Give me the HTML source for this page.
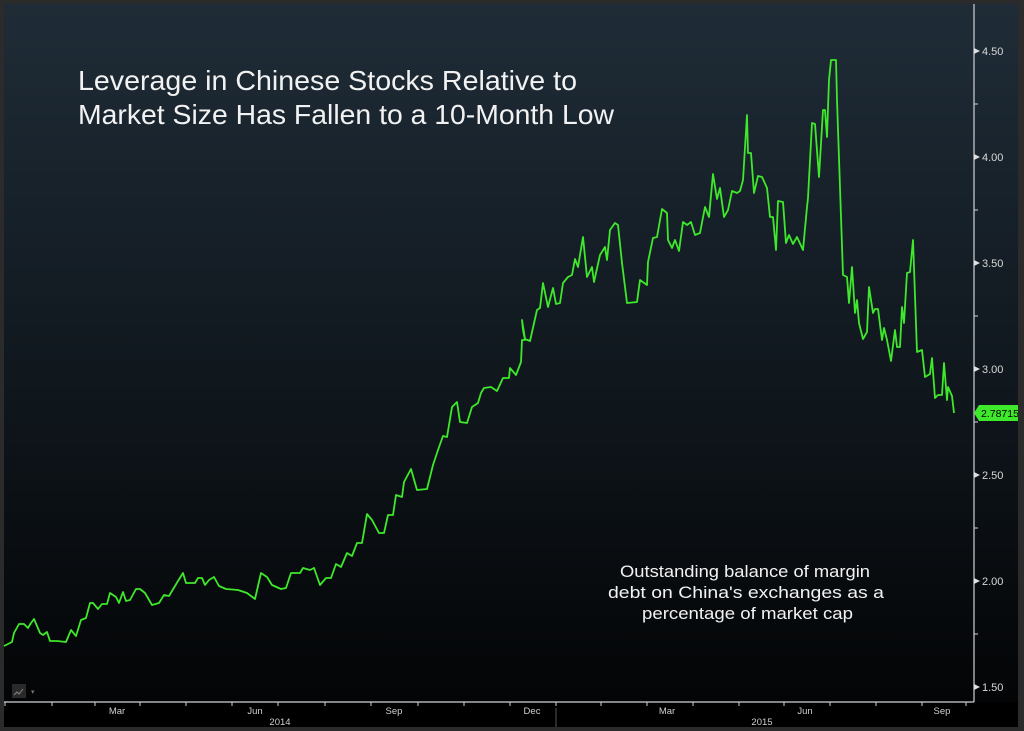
<!DOCTYPE html>
<html><head><meta charset="utf-8"><style>
html,body{margin:0;padding:0;background:#2b2b2b;}
svg{display:block;}
text{font-family:"Liberation Sans","DejaVu Sans",sans-serif;}
</style></head><body>
<svg width="1024" height="731" viewBox="0 0 1024 731" xmlns="http://www.w3.org/2000/svg">
<defs>
<linearGradient id="bg" x1="0" y1="0" x2="0" y2="1">
<stop offset="0" stop-color="#1f2c37"/>
<stop offset="0.45" stop-color="#121a21"/>
<stop offset="1" stop-color="#020304"/>
</linearGradient>
</defs>
<rect x="0" y="0" width="1024" height="731" fill="#2b2b2b"/>
<rect x="4" y="4" width="1014" height="723" fill="url(#bg)"/>
<rect x="4" y="702" width="1014" height="25" fill="#000"/>
<line x1="974" y1="4" x2="974" y2="702" stroke="#cfd3d6" stroke-width="1.2"/>
<line x1="4" y1="702" x2="974" y2="702" stroke="#cfd3d6" stroke-width="1.2"/>
<g fill="#d8d8d8" font-size="11">
<text x="982" y="55">4.50</text><text x="982" y="161">4.00</text><text x="982" y="267">3.50</text>
<text x="982" y="373">3.00</text><text x="982" y="479">2.50</text><text x="982" y="585">2.00</text><text x="982" y="691">1.50</text>
</g>
<g fill="#e0e0e0">
<path d="M974 48l6 3-6 3z"/><path d="M974 154l6 3-6 3z"/><path d="M974 260l6 3-6 3z"/><path d="M974 366l6 3-6 3z"/><path d="M974 472l6 3-6 3z"/><path d="M974 578l6 3-6 3z"/><path d="M974 684l6 3-6 3z"/>
</g>
<g stroke="#cfd3d6" stroke-width="1">
<line x1="974" y1="104" x2="978" y2="104"/><line x1="974" y1="210" x2="978" y2="210"/><line x1="974" y1="316" x2="978" y2="316"/><line x1="974" y1="422" x2="978" y2="422"/><line x1="974" y1="528" x2="978" y2="528"/><line x1="974" y1="634" x2="978" y2="634"/>
<line x1="5" y1="702" x2="5" y2="706"/><line x1="52" y1="702" x2="52" y2="706"/><line x1="95" y1="702" x2="95" y2="706"/><line x1="140" y1="702" x2="140" y2="706"/><line x1="186" y1="702" x2="186" y2="706"/><line x1="232" y1="702" x2="232" y2="706"/><line x1="278" y1="702" x2="278" y2="706"/><line x1="325" y1="702" x2="325" y2="706"/><line x1="371" y1="702" x2="371" y2="706"/><line x1="418" y1="702" x2="418" y2="706"/><line x1="464" y1="702" x2="464" y2="706"/><line x1="510" y1="702" x2="510" y2="706"/><line x1="556" y1="702" x2="556" y2="706"/><line x1="601" y1="702" x2="601" y2="706"/><line x1="647" y1="702" x2="647" y2="706"/><line x1="693" y1="702" x2="693" y2="706"/><line x1="739" y1="702" x2="739" y2="706"/><line x1="784" y1="702" x2="784" y2="706"/><line x1="830" y1="702" x2="830" y2="706"/><line x1="876" y1="702" x2="876" y2="706"/><line x1="922" y1="702" x2="922" y2="706"/><line x1="966" y1="702" x2="966" y2="706"/>
</g>
<line x1="556" y1="708" x2="556" y2="727" stroke="#555" stroke-width="1"/>
<g fill="#cfcfcf" font-size="9.5" text-anchor="middle">
<text x="117" y="714">Mar</text><text x="255" y="714">Jun</text><text x="394" y="714">Sep</text><text x="532" y="714">Dec</text>
<text x="667" y="714">Mar</text><text x="805" y="714">Jun</text><text x="942" y="714">Sep</text>
<text x="280" y="725">2014</text><text x="762" y="725">2015</text>
</g>
<rect x="12" y="684" width="14" height="14" fill="#2a2a2a"/>
<path d="M14 695l3-3 2 2 4-5" stroke="#888" fill="none" stroke-width="1"/>
<text x="31" y="694" fill="#777" font-size="7">▾</text>
<g fill="#f2f2f2" font-size="28">
<text x="78" y="90" textLength="499" lengthAdjust="spacingAndGlyphs">Leverage in Chinese Stocks Relative to</text>
<text x="78" y="124" textLength="536" lengthAdjust="spacingAndGlyphs">Market Size Has Fallen to a 10-Month Low</text>
</g>
<g fill="#f2f2f2" font-size="17">
<text x="620" y="577" textLength="250" lengthAdjust="spacingAndGlyphs">Outstanding balance of margin</text>
<text x="608" y="598" textLength="276" lengthAdjust="spacingAndGlyphs">debt on China's exchanges as a</text>
<text x="642" y="619" textLength="211" lengthAdjust="spacingAndGlyphs">percentage of market cap</text>
</g>
<polyline fill="none" stroke="#3ee82a" stroke-width="1.8" stroke-linejoin="round" points="
4,646 8,644 12,642 14,633 19,624 24,624 28,628 31,623 34,619 40,633 43,635 47,632 50,641 57,641 66,642 71,630 76,636 81,620 86,618 90,603 93,603 98,609 102,604 107,604 110,593 116,597 119,603 123,592 126,601 130,600 136,589 140,589 145,593 152,605 159,603 164,595 169,596 178,581 183,573 186,583 195,583 198,578 202,578 205,585 209,580 214,577 219,586 226,589 238,590 247,593 255,599 261,573 267,577 272,585 281,589 286,588 291,573 300,573 303,568 310,570 314,568 320,585 326,578 331,578 336,564 341,567 347,553 352,556 357,543 362,543 367,514 372,520 379,533 384,533 388,515 393,515 396,495 402,497 404,482 411,469 417,490 427,489 433,465 438,450 443,436 447,437 452,407 457,402 460,422 467,423 472,407 478,403 481,393 484,388 491,387 497,391 503,378 509,378 510,368 516,375 521,362 522,340 525,340 523,330 522,320 525,339 530,341 537,310 540,308 543,283 548,307 553,288 556,304 560,303 563,283 568,277 572,275 575,259 578,267 583,237 587,277 592,267 594,282 600,255 605,247 607,260 610,230 615,223 618,225 622,263 627,303 637,302 640,280 647,285 648,262 653,238 657,237 662,209 667,213 668,240 672,248 675,240 679,251 683,222 687,225 691,222 695,235 700,233 705,207 709,217 713,174 717,199 720,188 724,217 728,210 732,191 737,193 740,191 743,180 747,115 748,153 751,153 754,193 758,176 762,177 767,188 770,217 773,217 776,250 778,201 783,202 786,243 789,235 793,244 797,237 803,250 807,207 808,198 812,123 815,124 819,177 823,110 825,110 827,137 829,80 831,60 836,60 837,100 843,275 847,277 849,303 852,267 855,313 857,300 859,323 863,339 867,332 869,287 873,313 875,309 878,309 882,340 884,328 887,340 891,361 895,330 897,347 900,347 902,307 904,323 907,273 910,272 913,240 917,352 922,350 925,377 930,374 932,358 935,398 938,395 942,395 944,363 947,400 948,387 952,396 954,413"/>
<path d="M974 413l5-8h39v16h-39z" fill="#3ee82a"/>
<text x="981" y="417" fill="#000" font-size="10.5">2.78715</text>
<rect x="1018" y="0" width="6" height="731" fill="#2b2b2b"/>
</svg>
</body></html>
